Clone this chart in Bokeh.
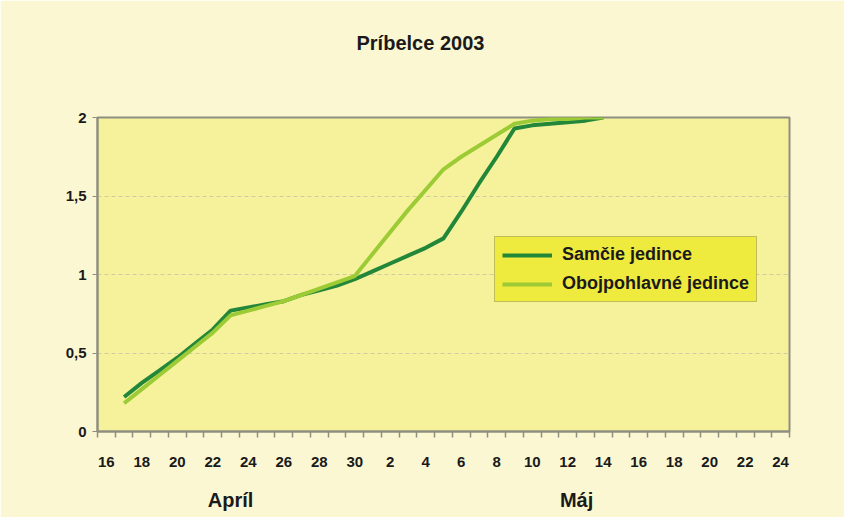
from bokeh.plotting import figure
from bokeh.models import FixedTicker, Range1d, Legend, LegendItem, LinearAxis
from bokeh.embed import file_html
from bokeh.resources import INLINE

# ---- data ----
april_days = list(range(16, 31))
may_days = list(range(1, 25))
categories = [f"{d}.4" for d in april_days] + [f"{d}.5" for d in may_days]
tick_labels = [str(d) for d in april_days] + [str(d) for d in may_days]

point_dates = ["17.4", "18.4", "19.4", "20.4", "21.4", "22.4", "23.4", "24.4", "25.4",
               "26.4", "27.4", "28.4", "29.4", "30.4", "1.5", "2.5", "3.5", "4.5",
               "5.5", "6.5", "7.5", "8.5", "9.5", "10.5", "11.5", "12.5", "13.5", "14.5"]
samcie = [0.22, 0.31, 0.39, 0.47, 0.56, 0.65, 0.77, 0.79, 0.81, 0.83, 0.87, 0.90, 0.93,
          0.97, 1.02, 1.07, 1.12, 1.17, 1.23, 1.40, 1.58, 1.75, 1.93, 1.95, 1.96, 1.97,
          1.98, 2.00]
obojpohlavne = [0.18, 0.27, 0.36, 0.45, 0.54, 0.63, 0.74, 0.77, 0.80, 0.83, 0.87, 0.91,
                0.95, 0.99, 1.13, 1.27, 1.41, 1.54, 1.67, 1.75, 1.82, 1.89, 1.96, 1.98,
                1.99, 1.99, 2.00, 2.00]
y_ticks = [0, 0.5, 1, 1.5, 2]
y_tick_labels = ["0", "0,5", "1", "1,5", "2"]
series_names = ["Samčie jedince", "Obojpohlavné jedince"]
month_names = ["Apríl", "Máj"]
title_text = "Príbelce 2003"

# ---- figure ----
FONT = "Liberation Sans"
xs = [categories.index(d) for d in point_dates]
n = len(categories)

p = figure(width=844, height=517, output_backend="svg", toolbar_location=None,
           x_range=Range1d(-0.5, n - 0.5), y_range=Range1d(0, 2),
           min_border_left=97, min_border_right=55, min_border_top=117,
           min_border_bottom=86)
p.background_fill_color = "#F6F29C"
p.border_fill_color = "#FBF7D3"
p.outline_line_color = "#8f8f80"
p.outline_line_width = 2

# title (trailing empty lines lift the visible line higher above the frame)
p.title.text = title_text + "\n\n"
p.title.align = "left"
p.title.offset = 259
p.title.standoff = 40
p.title.text_font = FONT
p.title.text_font_style = "bold"
p.title.text_font_size = "20px"
p.title.text_color = "#1a1a1a"

# x axis (days)
xaxis = p.xaxis[0]
xaxis.ticker = FixedTicker(ticks=list(range(0, n, 2)),
                           minor_ticks=[i - 0.5 for i in range(n + 1)])
xaxis.major_label_overrides = {i: tick_labels[i] for i in range(0, n, 2)}
xaxis.major_tick_out = 0
xaxis.major_tick_in = 0
xaxis.minor_tick_out = 6
xaxis.minor_tick_in = 0
xaxis.minor_tick_line_color = "#8f8f80"
xaxis.minor_tick_line_width = 1.5
xaxis.axis_line_color = "#8f8f80"
xaxis.axis_line_width = 2
xaxis.major_label_standoff = 19
xaxis.major_label_text_font = FONT
xaxis.major_label_text_font_style = "bold"
xaxis.major_label_text_font_size = "15px"
xaxis.major_label_text_color = "#1a1a1a"

# month axis (second row below)
month_centers = [(0 + 14) / 2, (15 + n - 1) / 2]
maxis = LinearAxis(ticker=FixedTicker(ticks=month_centers),
                   major_label_overrides={c: m for c, m in zip(month_centers, month_names)})
maxis.axis_line_color = None
maxis.major_tick_line_color = None
maxis.minor_tick_line_color = None
maxis.major_label_standoff = 13
maxis.major_label_text_font = FONT
maxis.major_label_text_font_style = "bold"
maxis.major_label_text_font_size = "20px"
maxis.major_label_text_color = "#1a1a1a"
p.add_layout(maxis, "below")

# y axis
yaxis = p.yaxis[0]
yaxis.ticker = FixedTicker(ticks=y_ticks)
yaxis.major_label_overrides = {t: l for t, l in zip(y_ticks, y_tick_labels)}
yaxis.minor_tick_out = 0
yaxis.minor_tick_in = 0
yaxis.major_tick_out = 5
yaxis.major_tick_in = 0
yaxis.major_tick_line_color = "#8f8f80"
yaxis.axis_line_color = "#8f8f80"
yaxis.axis_line_width = 2
yaxis.major_label_standoff = 6
yaxis.major_label_text_font = FONT
yaxis.major_label_text_font_style = "bold"
yaxis.major_label_text_font_size = "15px"
yaxis.major_label_text_color = "#1a1a1a"

# grids
p.xgrid.grid_line_color = None
p.ygrid.ticker = FixedTicker(ticks=[t for t in y_ticks if 0 < t < 2])
p.ygrid.grid_line_color = "#cfcaa0"
p.ygrid.grid_line_dash = "4 3"
p.ygrid.grid_line_width = 1

# lines
r1 = p.line(xs, samcie, line_color="#23873A", line_width=4)
r2 = p.line(xs, obojpohlavne, line_color="#9DCB35", line_width=4)

legend = Legend(items=[LegendItem(label=series_names[0], renderers=[r1]),
                       LegendItem(label=series_names[1], renderers=[r2])],
                location=(397, 129))
legend.background_fill_color = "#EFEA3E"
legend.background_fill_alpha = 1
legend.border_line_color = "#8f8f70"
legend.border_line_width = 1.5
legend.label_text_font = FONT
legend.label_text_font_style = "bold"
legend.label_text_font_size = "18px"
legend.label_text_color = "#1a1a1a"
legend.glyph_width = 50
legend.glyph_height = 18
legend.label_height = 18
legend.spacing = 8
legend.padding = 7
legend.margin = 0
legend.label_standoff = 10
p.add_layout(legend)

open("out.html", "w").write(file_html(p, INLINE))
